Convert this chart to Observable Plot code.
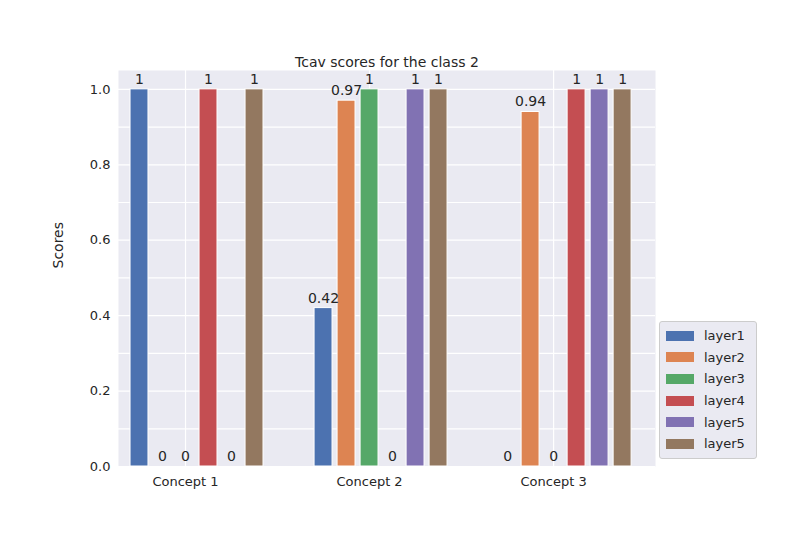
<!DOCTYPE html>
<html><head><meta charset="utf-8">
<script src="https://cdn.jsdelivr.net/npm/d3@7"></script>
<script src="https://cdn.jsdelivr.net/npm/@observablehq/plot@0.6"></script>
<style>
body{margin:0;background:#fff;font-family:"DejaVu Sans",sans-serif;}
#wrap{position:relative;width:806px;height:544px;}
#legend{position:absolute;left:659px;top:321px;width:96px;background:#EAEAF2;border:1px solid #ccc;border-radius:3px;padding:3px 0;font-size:13px;color:#262626}
#legend div{display:flex;align-items:center;height:21.6px;padding-left:6px}
#legend span{display:inline-block;width:28px;height:10px;margin-right:10px}
</style></head><body>
<div id="wrap"><div id="chart"></div><div id="legend"></div></div>
<script>
const concepts = ["Concept 1", "Concept 2", "Concept 3"];
const layers = ["layer1", "layer2", "layer3", "layer4", "layer5", "layer5"];
const colors = ["#4C72B0", "#DD8452", "#55A868", "#C44E52", "#8172B3", "#937860"];
const scores = [
  [1, 0, 0, 1, 0, 1],
  [0.42, 0.97, 1, 0, 1, 1],
  [0, 0.94, 0, 1, 1, 1]
];
const labels = [
  ["1", "0", "0", "1", "0", "1"],
  ["0.42", "0.97", "1", "0", "1", "1"],
  ["0", "0.94", "0", "1", "1", "1"]
];

const bars = [];
concepts.forEach((c, g) => layers.forEach((l, j) => {
  bars.push({pos: g * 8 + j, v: scores[g][j], t: labels[g][j], color: colors[j]});
}));
const tickPos = concepts.map((c, g) => g * 8 + 2);

const chart = Plot.plot({
  width: 806, height: 544,
  marginLeft: 118, marginRight: 151, marginTop: 70, marginBottom: 78,
  style: {fontFamily: "DejaVu Sans", fontSize: "13px", color: "#262626"},
  x: {domain: [-0.913, 22.43], ticks: tickPos, tickFormat: d => concepts[(d - 2) / 8], tickSize: 0, label: null, tickPadding: 10},
  y: {domain: [0, 1.05], ticks: [0, 0.2, 0.4, 0.6, 0.8, 1.0], tickFormat: d3.format(".1f"), tickSize: 0, label: null, tickPadding: 8},
  marks: [
    Plot.frame({fill: "#EAEAF2", stroke: null}),
    Plot.gridY({stroke: "white", strokeOpacity: 1, strokeWidth: 1.2}),
    Plot.gridX({ticks: tickPos, stroke: "white", strokeOpacity: 1, strokeWidth: 1.2}),
    Plot.rectY(bars, {x1: d => d.pos - 0.39, x2: d => d.pos + 0.39, y1: 0, y2: "v", fill: "color", stroke: "white", strokeWidth: 1}),
    Plot.text(bars, {x: "pos", y: "v", text: "t", dy: -10, fontSize: 14, fill: "#262626"}),
    Plot.text(["Tcav scores for the class 2"], {frameAnchor: "top", dy: -13, fontSize: 14, fill: "#262626"}),
    Plot.text(["Scores"], {frameAnchor: "left", dx: -60, rotate: -90, fontSize: 14, fill: "#262626"})
  ]
});
document.getElementById("chart").append(chart);

const leg = document.getElementById("legend");
layers.forEach((l, j) => {
  const d = document.createElement("div");
  d.innerHTML = `<span style="background:${colors[j]}"></span>${l}`;
  leg.append(d);
});
</script></body></html>
